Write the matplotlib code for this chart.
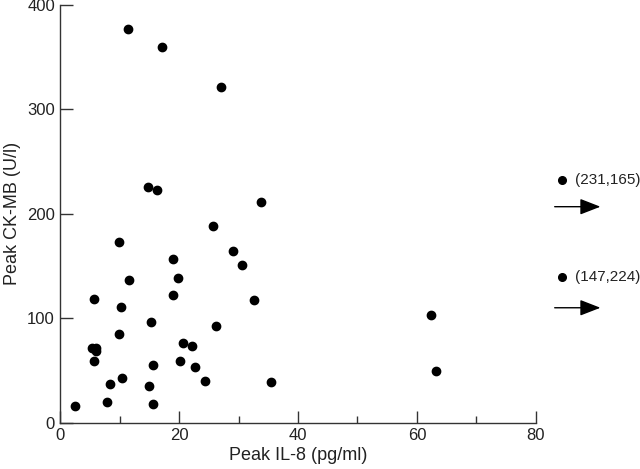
import matplotlib
matplotlib.use("Agg")
import matplotlib.pyplot as plt

il8 = [11.4, 17.1, 27.0, 14.8, 16.2, 33.7, 25.6, 9.85, 29.1, 18.9, 30.6, 11.6, 19.8,
       19.0, 5.7, 32.5, 10.2, 15.2, 26.2, 9.9, 20.7, 22.1, 5.3, 5.9, 5.9, 5.6, 20.2,
       15.5, 22.6, 10.4, 24.3, 35.5, 8.4, 14.9, 2.4, 7.9, 15.5, 62.4, 63.3]
ckmb = [376.7, 359.5, 321, 225.3, 222.7, 210.9, 188.5, 172.9, 164, 157, 150.9, 136.6, 138.2,
        122.2, 118.4, 117.7, 110.4, 96.1, 92.5, 84.9, 76, 73.4, 71.5, 71.8, 68.6, 59.3, 59.3,
        55.5, 53, 42.8, 40.2, 38.6, 37.3, 35.4, 16, 19.8, 18.2, 103, 49.8]

outlier_labels = ["(231,165)", "(147,224)"]
outlier_dot_y = [232.2, 139.4]
outlier_arrow_y = [206.7, 110.0]

plt.rcParams['font.family'] = ['Liberation Sans', 'DejaVu Sans']
fig = plt.figure(figsize=(6.4, 4.69), dpi=100)
ax = fig.add_axes([0.0945, 0.0987, 0.7425, 0.8913])

ax.plot(il8, ckmb, 'o', color='black', markersize=6, linestyle='none', clip_on=False)

ax.set_xlim(0, 80)
ax.set_ylim(0, 400)
ax.set_xticks([0, 20, 40, 60, 80])
ax.set_xticks([10, 30, 50, 70], minor=True)
ax.set_yticks([0, 100, 200, 300, 400])
ax.spines['top'].set_visible(False)
ax.spines['right'].set_visible(False)
for s in ['left', 'bottom']:
    ax.spines[s].set_color('#333333')
    ax.spines[s].set_linewidth(1.0)
ax.tick_params(axis='both', which='major', direction='in', length=9, width=1.0,
               colors='#333333', labelcolor='#222222', labelsize=12, pad=4)
ax.tick_params(axis='x', which='minor', direction='in', length=5, width=1.0, colors='#333333')
ax.set_xlabel('Peak IL-8 (pg/ml)', fontsize=13, color='#222222', labelpad=3)
ax.set_ylabel('Peak CK-MB (U/l)', fontsize=13, color='#222222', labelpad=4)

for lab, dy, ay in zip(outlier_labels, outlier_dot_y, outlier_arrow_y):
    ax.plot([84.5], [dy], 'o', color='black', markersize=5.5, clip_on=False)
    ax.text(86.6, dy, lab, fontsize=11, va='center', ha='left', color='#222222', clip_on=False)
    ax.annotate('', xy=(90.9, ay), xytext=(83.2, ay), annotation_clip=False,
                arrowprops=dict(arrowstyle='-|>,head_length=0.9,head_width=0.35',
                                color='black', lw=1.0, mutation_scale=14,
                                shrinkA=0, shrinkB=0))

fig.savefig('out.png', dpi=100)
